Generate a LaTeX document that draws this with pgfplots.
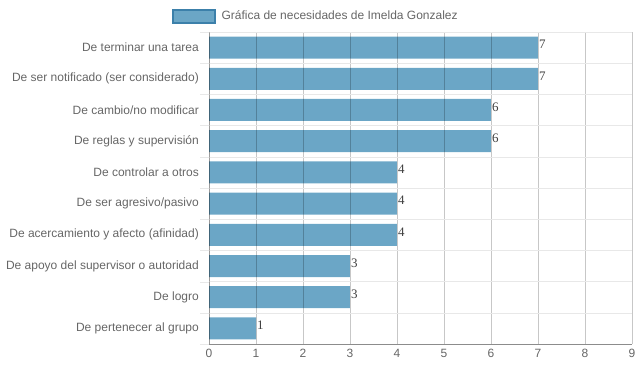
\documentclass[border=0pt]{standalone}
\usepackage{pgfplots}
\pgfplotsset{compat=1.18}
\usepackage{fontspec}
\setmainfont{Liberation Sans}
\newfontfamily\serifv{Liberation Serif}
\definecolor{barc}{HTML}{6BA6C6}
\definecolor{barb}{HTML}{3C80AA}
\definecolor{txt}{HTML}{666666}
\definecolor{hgrid}{HTML}{E8E8E8}
\begin{document}
\begin{tikzpicture}
\useasboundingbox (0,0) rectangle (639pt,372pt);
\begin{axis}[
  at={(209pt,28pt)}, anchor=south west,
  scale only axis, width=423pt, height=312pt,
  xbar, bar width=22pt,
  xmin=0, xmax=9, ymin=-0.5, ymax=9.5,
  xtick={0,...,9}, ytick={0,...,9},
  yticklabels={De pertenecer al grupo, De logro, De apoyo del supervisor o autoridad, De acercamiento y afecto (afinidad), De ser agresivo/pasivo, De controlar a otros, De reglas y supervisión, De cambio/no modificar, De ser notificado (ser considerado), De terminar una tarea},
  minor ytick={-0.5,0.5,...,9.5},
  major tick length=0pt,
  minor tick length=9pt,
  tick align=outside,
  every minor tick/.style={draw=hgrid},
  xmajorgrids,
  major x grid style={black, opacity=0.22},
  yminorgrids,
  minor y grid style={hgrid},
  axis on top,
  axis x line*=bottom, axis y line*=left,
  x axis line style={-, draw=black!45},
  y axis line style={-, draw=black, draw opacity=0.22},
  /pgf/number format/assume math mode=true,
  x tick label style={font=\fontsize{12}{14}\selectfont, text=txt, inner sep=0pt, yshift=-5pt},
  y tick label style={font=\fontsize{12}{14}\selectfont, text=txt, inner sep=0pt, xshift=-10pt},
  nodes near coords,
  nodes near coords style={font=\serifv\fontsize{13}{14}\selectfont, text=black!75, anchor=west, inner sep=1pt, yshift=3pt},
  legend style={at={(0.252,1.051)}, anchor=center, draw=none, fill=none, font=\fontsize{12}{14}\selectfont, text=txt, inner sep=0pt, /tikz/every odd column/.append style={column sep=4pt}},
  legend image code/.code={\draw[fill=barc, draw=barb, line width=2pt] (0pt,-6.5pt) rectangle (42pt,6.5pt);},
]
\addplot[fill=barc, draw=none] coordinates {
  (1,0) (3,1) (3,2) (4,3) (4,4) (4,5) (6,6) (6,7) (7,8) (7,9)
};
\addlegendentry{Gráfica de necesidades de Imelda Gonzalez}
\end{axis}
\end{tikzpicture}
\end{document}
